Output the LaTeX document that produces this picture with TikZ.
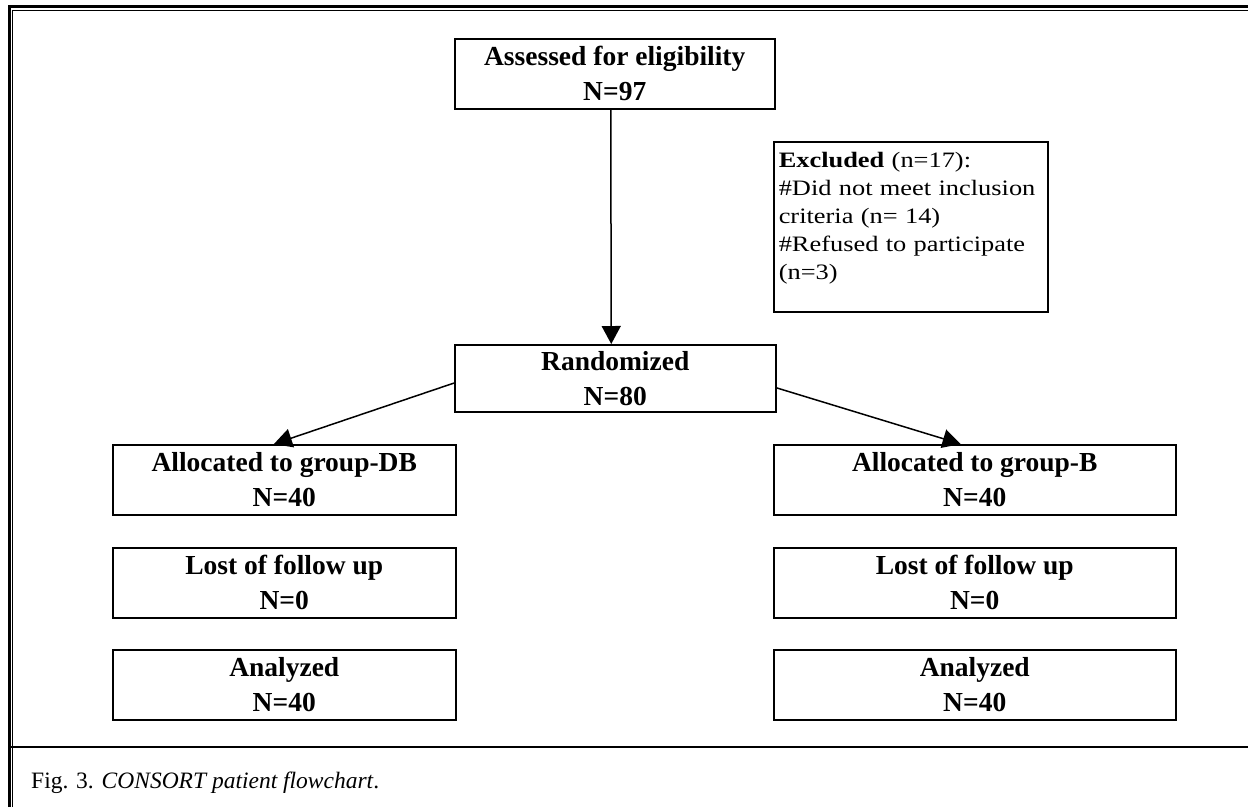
\documentclass[tikz,border=0pt]{standalone}
\usepackage{fontspec}
\setmainfont{Liberation Serif}
\newfontfamily\boxfamily{Liberation Serif}
\newfontfamily\exclfamily[FakeStretch=1.2]{Liberation Serif}
\usetikzlibrary{arrows.meta,calc}
\tikzset{
  flowbox/.style={draw, line width=1.5pt, inner sep=0pt, align=center,
    font=\boxfamily\fontsize{27.5}{35}\selectfont\bfseries, anchor=north west},
  leftbox/.style={flowbox, minimum width=343pt, minimum height=70pt},
  rightbox/.style={flowbox, minimum width=402pt, minimum height=70pt},
  arr/.style={line width=1.5pt, -{Triangle[length=18pt,width=19pt]}},
  framethick/.style={line width=3pt},
  framethin/.style={line width=1.3pt}
}
\begin{document}
\begin{tikzpicture}[x=1pt,y=-1pt]
\useasboundingbox (0,0) rectangle (1248,807);
% outer frame
\draw[framethick] (9.2,807) -- (9.2,6.2) -- (1248,6.2);
\draw[framethin] (12.7,807) -- (12.7,10.2) -- (1248,10.2);
\draw[line width=2.5pt] (10.7,747) -- (1248,747);
% boxes
\node[flowbox, minimum width=320pt, minimum height=70pt] (assess) at (454,38) {Assessed for eligibility\\N=97};
\node[draw, line width=1.5pt, anchor=north west, inner xsep=5pt, inner ysep=0pt,
      text width=264pt, align=left, text height=26pt, text depth=144pt,
      font=\exclfamily\fontsize{22}{28}\selectfont] (excl) at (773,141)
  {\textbf{Excluded} (n=17):\\\#Did not meet inclusion\\criteria (n= 14)\\\#Refused to participate\\(n=3)};
\node[flowbox, minimum width=321pt, minimum height=67pt] (rand) at (454,344) {Randomized\\N=80};
\node[leftbox] (db) at (112,444) {Allocated to group-DB\\N=40};
\node[leftbox] (lostl) at (112,547) {Lost of follow up\\N=0};
\node[leftbox] (anl) at (112,649) {Analyzed\\N=40};
\node[rightbox] (b) at (773,444) {Allocated to group-B\\N=40};
\node[rightbox] (lostr) at (773,547) {Lost of follow up\\N=0};
\node[rightbox] (anr) at (773,649) {Analyzed\\N=40};
% arrows
\draw[arr] ([xshift=-4pt]assess.south) -- ([xshift=-4pt]rand.north);
\draw[arr] ($(rand.south west)!0.43!(rand.north west)$) -- ($(db.north west)!0.47!(db.north east)$);
\draw[arr] ($(rand.south east)!0.36!(rand.north east)$) -- ($(b.north west)!0.465!(b.north east)$);
% caption
\node[anchor=base west, inner sep=0pt, font=\fontsize{23.5}{28}\selectfont] (caption) at (31,788)
  {Fig. 3. \textit{CONSORT patient flowchart}.};
\end{tikzpicture}
\end{document}
